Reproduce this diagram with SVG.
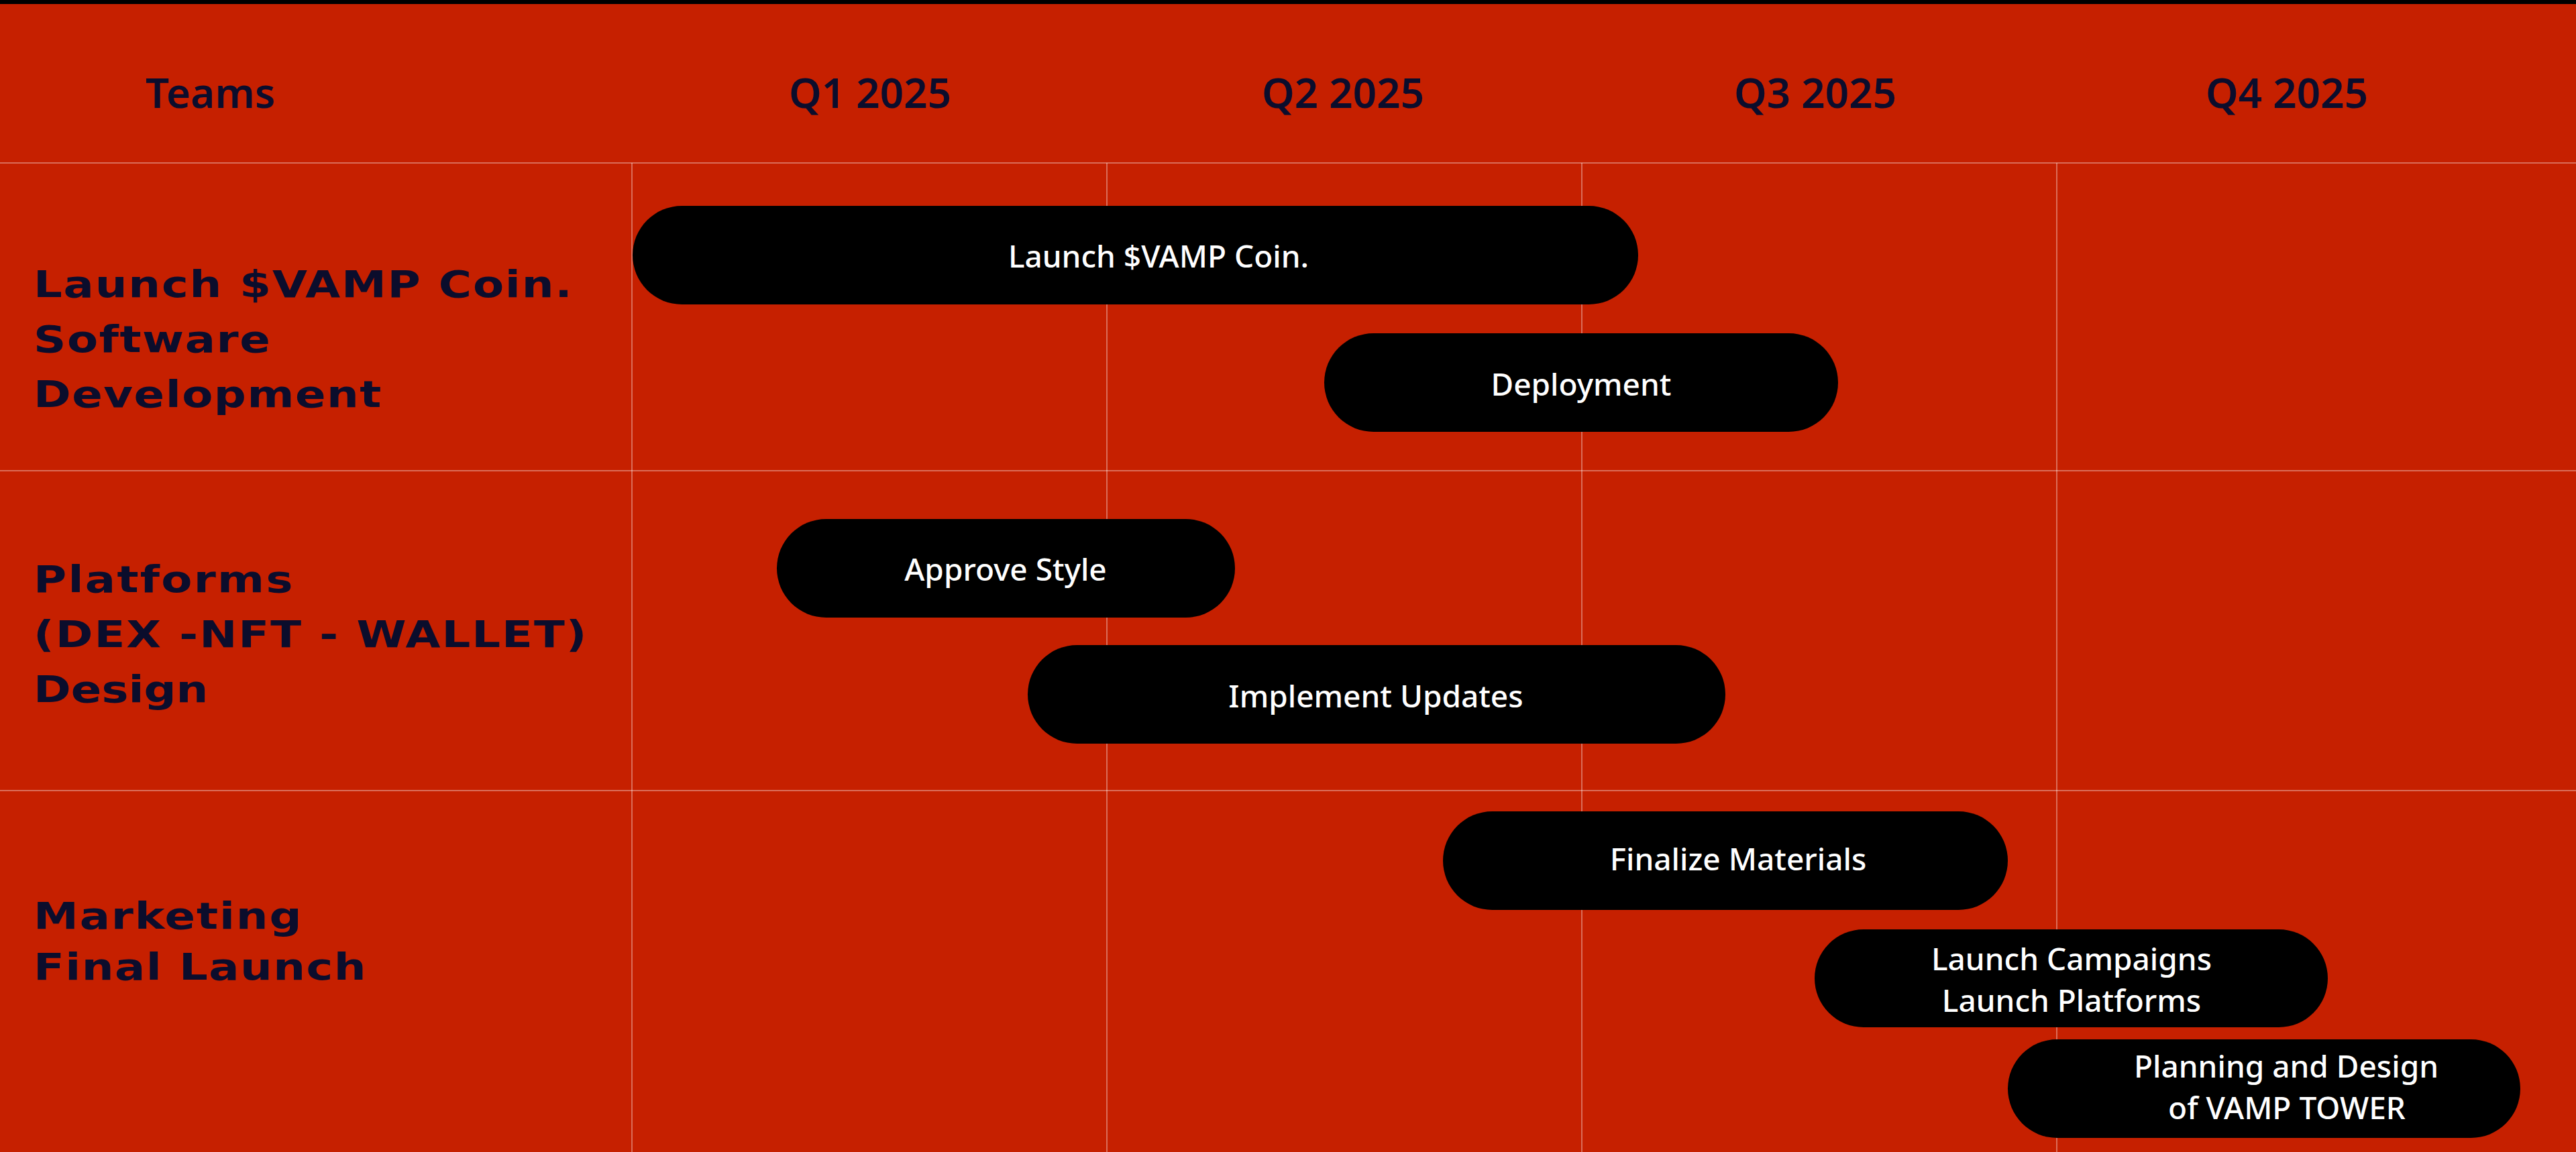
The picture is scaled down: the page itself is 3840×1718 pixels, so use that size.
<svg xmlns="http://www.w3.org/2000/svg" width="3840" height="1718" viewBox="0 0 3840 1718">
<style>
.hdr{font-family:"Noto Sans","Liberation Sans",sans-serif;font-size:62px;font-weight:600;fill:#0b0d2c}
.lbl{font-family:"DejaVu Sans","Liberation Sans",sans-serif;font-size:56px;font-weight:bold;fill:#0b0d2c}
.bar{fill:#000000}
.bt{font-family:"Noto Sans","Liberation Sans",sans-serif;font-size:46px;font-weight:500;fill:#ffffff;text-anchor:middle}
.grid{stroke:#ffffff;stroke-opacity:0.35;stroke-width:2;fill:none}
</style>
<rect x="0" y="0" width="3840" height="1718" fill="#c62000"/>
<rect x="0" y="0" width="3840" height="6" fill="#000000"/>
<g id="grid">
<line class="grid" x1="0" y1="243" x2="3840" y2="243" stroke-width="3"/>
<line class="grid" x1="0" y1="702" x2="3840" y2="702"/>
<line class="grid" x1="0" y1="1179" x2="3840" y2="1179"/>
<line class="grid" x1="942" y1="243" x2="942" y2="1718"/>
<line class="grid" x1="1650" y1="243" x2="1650" y2="1718"/>
<line class="grid" x1="2358" y1="243" x2="2358" y2="1718"/>
<line class="grid" x1="3066" y1="243" x2="3066" y2="1718"/>
</g>
<g id="header">
<text class="hdr" x="217" y="161">Teams</text>
<text class="hdr" x="1297" y="161" text-anchor="middle">Q1 2025</text>
<text class="hdr" x="2002" y="161" text-anchor="middle">Q2 2025</text>
<text class="hdr" x="2706" y="161" text-anchor="middle">Q3 2025</text>
<text class="hdr" x="3409" y="161" text-anchor="middle">Q4 2025</text>
</g>
<g id="team-software" transform="translate(50,0) scale(1.2,1)">
<text class="lbl" x="0" y="443" textLength="669" lengthAdjust="spacing">Launch $VAMP Coin.</text>
<text class="lbl" x="0" y="525" textLength="294" lengthAdjust="spacing">Software</text>
<text class="lbl" x="0" y="607" textLength="432" lengthAdjust="spacing">Development</text>
</g>
<g id="team-platforms" transform="translate(50,0) scale(1.2,1)">
<text class="lbl" x="0" y="883" textLength="322" lengthAdjust="spacing">Platforms</text>
<text class="lbl" x="0" y="965" textLength="687" lengthAdjust="spacing">(DEX -NFT - WALLET)</text>
<text class="lbl" x="0" y="1047" textLength="217" lengthAdjust="spacing">Design</text>
</g>
<g id="team-marketing" transform="translate(50,0) scale(1.2,1)">
<text class="lbl" x="0" y="1385" textLength="333" lengthAdjust="spacing">Marketing</text>
<text class="lbl" x="0" y="1461" textLength="413" lengthAdjust="spacing">Final Launch</text>
</g>
<g id="task-launch-coin">
<rect class="bar" x="943" y="307" width="1499" height="147" rx="73.5"/>
<text class="bt" x="1727" y="399">Launch $VAMP Coin.</text>
</g>
<g id="task-deployment">
<rect class="bar" x="1974" y="497" width="766" height="147" rx="73.5"/>
<text class="bt" x="2357" y="590">Deployment</text>
</g>
<g id="task-approve-style">
<rect class="bar" x="1158" y="774" width="683" height="147" rx="73.5"/>
<text class="bt" x="1499" y="866">Approve Style</text>
</g>
<g id="task-implement-updates">
<rect class="bar" x="1532" y="962" width="1040" height="147" rx="73.5"/>
<text class="bt" x="2051" y="1055">Implement Updates</text>
</g>
<g id="task-finalize-materials">
<rect class="bar" x="2151" y="1210" width="842" height="147" rx="73.5"/>
<text class="bt" x="2591" y="1298">Finalize Materials</text>
</g>
<g id="task-launch-campaigns">
<rect class="bar" x="2705" y="1386" width="765" height="146" rx="73"/>
<text class="bt" x="3088" y="1447">Launch Campaigns</text>
<text class="bt" x="3088" y="1509">Launch Platforms</text>
</g>
<g id="task-vamp-tower">
<rect class="bar" x="2993" y="1550" width="764" height="147" rx="73.5"/>
<text class="bt" x="3408" y="1607">Planning and Design</text>
<text class="bt" x="3409" y="1669">of VAMP TOWER</text>
</g>
</svg>
